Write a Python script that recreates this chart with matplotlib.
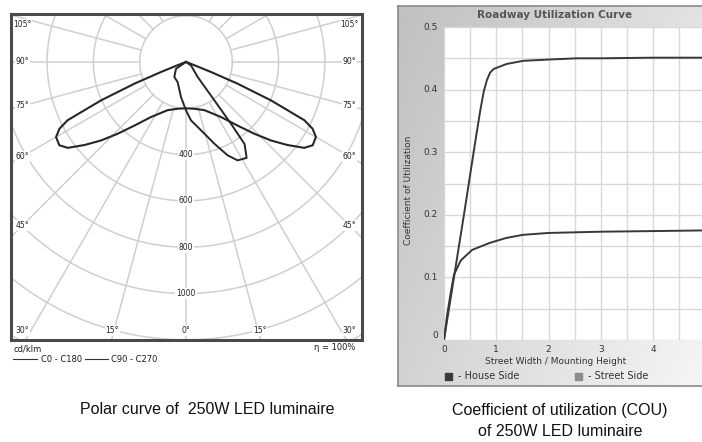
import numpy as np
import matplotlib.pyplot as plt
from matplotlib.lines import Line2D
from matplotlib.patches import Rectangle

# ---------------- data: polar curve (cd/klm vs angle from nadir, deg) ----------------
c0_gamma = [0, 10, 21, 32.5, 39, 43.6, 47.3, 50.7, 54, 56.7, 60, 62.2, 63.8, 64.6, 65.7, 67.2, 68.2, 69, 75, 90]
c0_cd = [200, 205, 223, 282, 353, 428, 500, 566, 631, 655, 648, 618, 570, 486, 402, 242, 117, 39, 5, 0]
c90_gamma = [-90, -56, -38, -22.6, -8.1, 0, 4.9, 12.4, 19.1, 24, 27.7, 32.3, 35.5, 36.1, 36.5, 37.9, 56, 90]
c90_cd = [0, 52, 82, 94, 153, 209, 253, 302, 373, 441, 480, 490, 436, 328, 206, 82, 26, 0]
ring_values = [200, 400, 600, 800, 1000, 1200, 1400]
ring_labels = ['400', '600', '800', '1000']
side_angles = [105, 90, 75, 60, 45]
bottom_angles = [30, 15, 0, 15, 30]
legend_names = ['C0 - C180', 'C90 - C270']

# ---------------- data: roadway utilization curve ----------------
house_x = [0, 0.2, 0.4, 0.6, 0.69, 0.76, 0.82, 0.88, 0.95, 1.2, 1.52, 2.0, 2.54, 3.0, 4.0, 4.93]
house_y = [0, 0.105, 0.21, 0.318, 0.365, 0.397, 0.415, 0.427, 0.433, 0.441, 0.446, 0.448, 0.450, 0.450, 0.451, 0.451]
street_x = [0, 0.06, 0.13, 0.19, 0.32, 0.54, 0.87, 1.19, 1.51, 2.0, 2.5, 3.0, 4.0, 4.93]
street_y = [0, 0.04, 0.076, 0.104, 0.127, 0.144, 0.155, 0.163, 0.168, 0.171, 0.172, 0.173, 0.174, 0.175]
cu_xticks = [0, 1, 2, 3, 4]
cu_yticks = [0, 0.1, 0.2, 0.3, 0.4, 0.5]
cu_ytick_labels = ['0', '0.1', '0.2', '0.3', '0.4', '0.5']
cu_legend = ['- House Side', '- Street Side']

W, H = 702, 442
fig = plt.figure(figsize=(W / 100, H / 100), dpi=100)
fig.patch.set_facecolor('white')


def fa(x0, y0, x1, y1):
    """pixel box (top-left origin) -> figure axes rect"""
    return [x0 / W, 1 - y1 / H, (x1 - x0) / W, (y1 - y0) / H]


# ================= LEFT: polar diagram =================
ax = fig.add_axes(fa(11, 14, 362, 340))
scale = 0.2315  # px per cd/klm
cx_px, cy_px = 186, 62
xl = -(cx_px - 11) / scale
xr = (362 - cx_px) / scale
yt = (cy_px - 14) / scale
yb = -(340 - cy_px) / scale
ax.set_xlim(xl, xr)
ax.set_ylim(yb, yt)
ax.set_xticks([])
ax.set_yticks([])
for s in ax.spines.values():
    s.set_color('#4a4a4a')
    s.set_linewidth(2.2)

grid_c = '#cfcfcf'
th = np.linspace(0, 2 * np.pi, 400)
for r in ring_values:
    ax.plot(r * np.cos(th), r * np.sin(th), color=grid_c, lw=1.1, zorder=1)
for k in range(-12, 13):
    g = np.radians(k * 15)
    rr = np.array([200, 2000])
    ax.plot(rr * np.sin(g), -rr * np.cos(g), color=grid_c, lw=1.1, zorder=1)

lab_kw = dict(fontsize=5.5, color='#222', ha='center', va='center', zorder=3)
for lab in ring_labels:
    v = float(lab)
    ax.text(0, -v, lab, bbox=dict(facecolor='white', edgecolor='none', pad=0.6), **lab_kw)

lx = 706
for a in side_angles:
    t = np.radians(a - 90)
    y = lx * np.tan(t)
    y = min(y, 162)
    for sgn in (-1, 1):
        ax.text(sgn * lx, y, f'{a}°', bbox=dict(facecolor='white', edgecolor='none', pad=0.5), **lab_kw)
for i, a in enumerate(bottom_angles):
    sgn = -1 if i < 2 else 1
    xx = sgn * 1190 * np.tan(np.radians(a))
    if i == 0:
        xx = -706
    if i == 4:
        xx = 706
    ax.text(xx, -1160, f'{a}°', bbox=dict(facecolor='white', edgecolor='none', pad=0.5), **lab_kw)

# C0 - C180 (symmetric)
g0 = np.radians(np.array([-g for g in c0_gamma[::-1]] + c0_gamma[1:]))
i0 = np.array(c0_cd[::-1] + c0_cd[1:])
ax.plot(i0 * np.sin(g0), -i0 * np.cos(g0), color='#262626', lw=1.5, zorder=4,
        solid_joinstyle='round')
# C90 - C270
g9 = np.radians(np.array(c90_gamma))
i9 = np.array(c90_cd)
ax.plot(i9 * np.sin(g9), -i9 * np.cos(g9), color='#262626', lw=1.4, zorder=4,
        solid_joinstyle='round')

# legend below polar frame
leg_kw = dict(fontsize=6, color='#1a1a1a', va='center')
fig.text(14 / W, 1 - 349 / H, 'cd/klm', **leg_kw)
fig.add_artist(Line2D([13 / W, 37 / W], [1 - 359 / H] * 2, color='#333', lw=0.8))
fig.text(41 / W, 1 - 359 / H, legend_names[0], **leg_kw)
fig.add_artist(Line2D([85 / W, 108 / W], [1 - 359 / H] * 2, color='#333', lw=0.8))
fig.text(111 / W, 1 - 359 / H, legend_names[1], **leg_kw)
fig.text(355 / W, 1 - 348 / H, 'η = 100%', ha='right', **leg_kw)

# ================= RIGHT: utilization curve =================
bg = fig.add_axes(fa(398, 6, 702, 386))
uu, vv = np.meshgrid(np.linspace(0, 1, 200), np.linspace(0, 1, 200))
grad = 0.75 + 0.21 * (0.65 * uu + 0.35 * vv)
bg.imshow(grad, cmap='gray', vmin=0, vmax=1, aspect='auto', extent=[0, 1, 0, 1], origin='upper')
bg.set_xlim(0, 1)
bg.set_ylim(0, 1)
bg.set_xticks([])
bg.set_yticks([])
for s in ['top', 'left', 'bottom']:
    bg.spines[s].set_color('#8a8a8a')
    bg.spines[s].set_linewidth(1.2)
bg.spines['right'].set_visible(False)

ax2 = fig.add_axes(fa(444, 27, 702, 340))
ax2.set_facecolor('white')
ax2.set_xlim(0, 258 / 52.3)
ax2.set_ylim(0, 0.5)
ax2.set_xticks(np.arange(0, 5.0, 0.5), minor=False)
ax2.set_yticks(np.arange(0, 0.501, 0.05))
ax2.grid(True, color='#d8d8d8', lw=1.0)
ax2.tick_params(length=0, labelleft=False, labelbottom=False)
for s in ax2.spines.values():
    s.set_visible(False)
ax2.plot(house_x, house_y, color='#383838', lw=1.4, zorder=3)
ax2.plot(street_x, street_y, color='#383838', lw=1.4, zorder=3)

for t in cu_xticks:
    xp = 444 + t * 52.3
    fig.text(xp / W, 1 - 349 / H, str(t), fontsize=6.5, color='#333', ha='center', va='center')
for t, lab in zip(cu_yticks, cu_ytick_labels):
    yp = 339.5 - t / 0.1 * 62.5
    if t == 0:
        yp -= 4
    fig.text(438 / W, 1 - yp / H, lab, fontsize=6.5, color='#333', ha='right', va='center')

fig.text(555 / W, 1 - 15 / H, 'Roadway Utilization Curve', fontsize=7.5, fontweight='bold',
         color='#555', ha='center', va='center')
fig.text(408 / W, 1 - 190 / H, 'Coefficient of Utilization', fontsize=6.5, color='#333',
         ha='center', va='center', rotation=90)
fig.text(556 / W, 1 - 362 / H, 'Street Width / Mounting Height', fontsize=6.5, color='#333',
         ha='center', va='center')
fig.add_artist(Rectangle((445 / W, 1 - 380 / H), 7 / W, 7 / H, color='#3a3a3a'))
fig.text(458 / W, 1 - 376 / H, cu_legend[0], fontsize=7, color='#333', va='center')
fig.add_artist(Rectangle((575 / W, 1 - 380 / H), 7 / W, 7 / H, color='#8c8c8c'))
fig.text(588 / W, 1 - 376 / H, cu_legend[1], fontsize=7, color='#333', va='center')

# ================= captions =================
cap_font = ['Liberation Sans Narrow', 'Liberation Sans', 'DejaVu Sans']
fig.text(207 / W, 1 - 410 / H, 'Polar curve of  250W LED luminaire', fontsize=11.5,
         family=cap_font, ha='center', va='center', color='#111')
fig.text(560 / W, 1 - 410 / H, 'Coefficient of utilization (COU)', fontsize=11.5,
         family=cap_font, ha='center', va='center', color='#111')
fig.text(560 / W, 1 - 432 / H, 'of 250W LED luminaire', fontsize=11.5,
         family=cap_font, ha='center', va='center', color='#111')

fig.savefig('out.png', dpi=100)
